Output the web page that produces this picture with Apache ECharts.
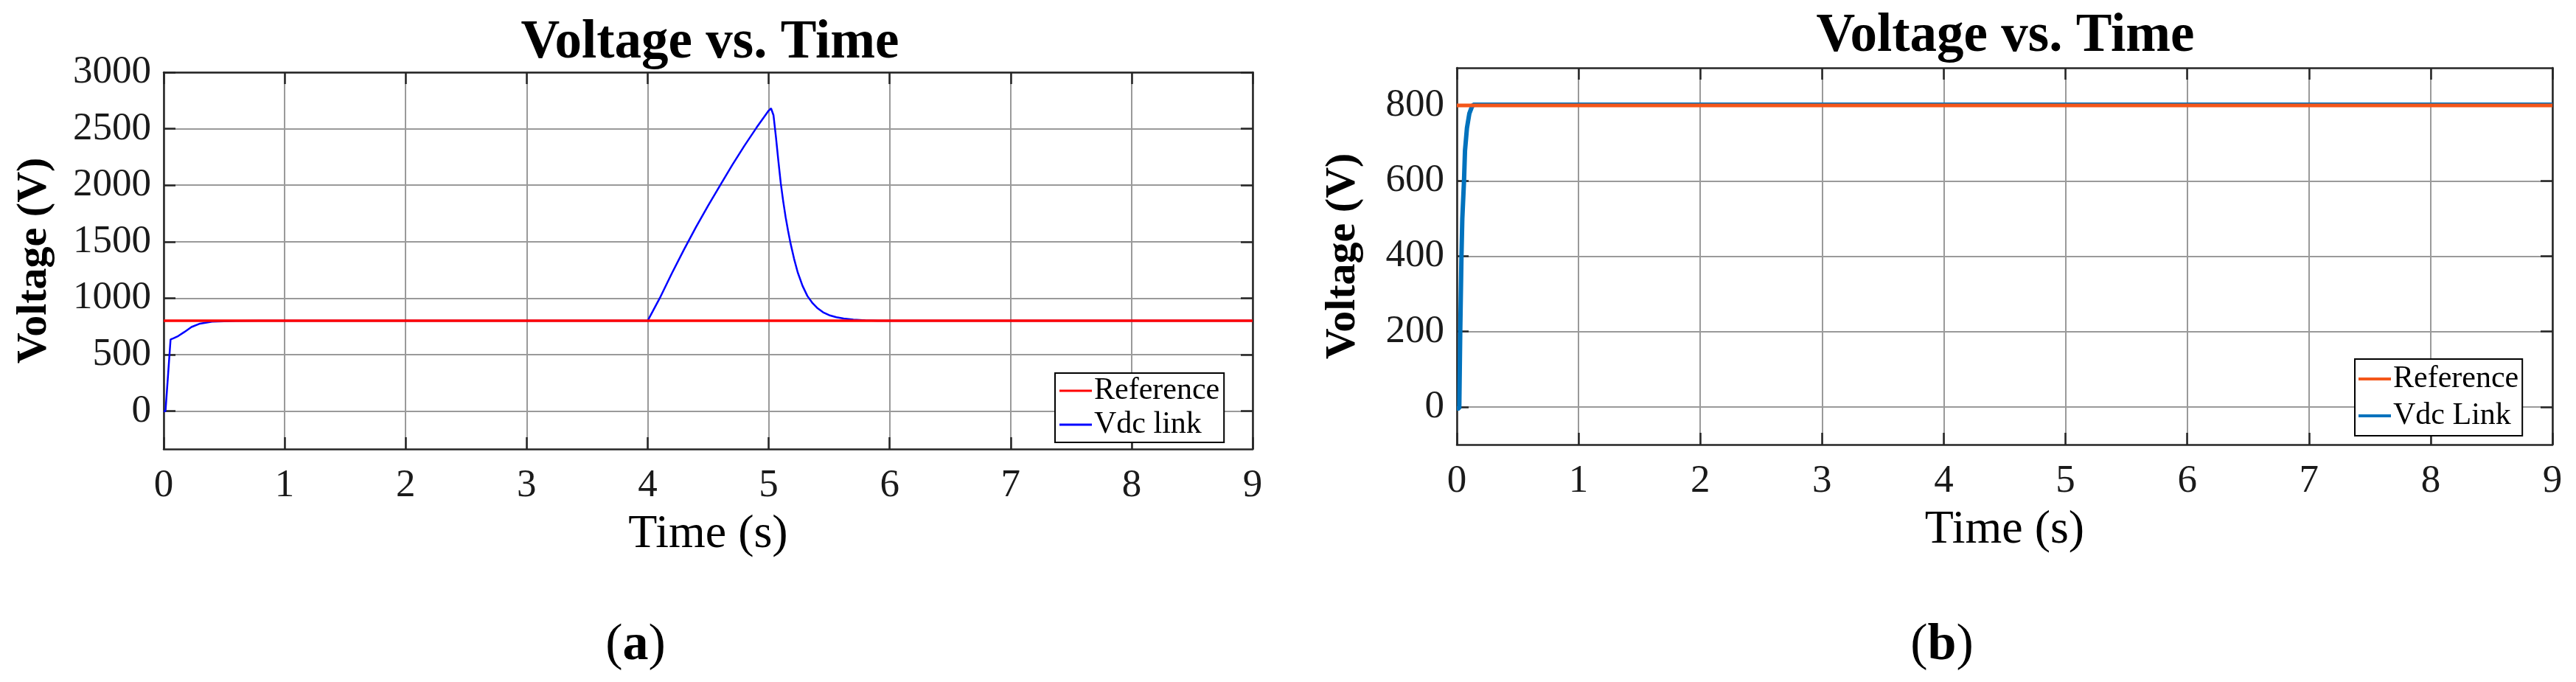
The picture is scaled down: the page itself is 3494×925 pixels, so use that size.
<!DOCTYPE html>
<html>
<head>
<meta charset="utf-8">
<title>Voltage vs. Time</title>
<script src="https://cdn.jsdelivr.net/npm/echarts@6/dist/echarts.min.js"></script>
<style>
    html, body { margin: 0; padding: 0; background: #fff; }
    #main { width: 3494px; height: 925px; }
</style>
</head>
<body>
<div id="main"></div>
<script>
// (a) 左图：读图得到的采样点
const timeA = [0, 0.015, 0.057, 0.08, 0.12, 0.17, 0.23, 0.3, 0.4, 0.6, 0.8,
    4.0, 4.1, 4.2, 4.3, 4.4, 4.5, 4.6, 4.7, 4.8, 4.9, 5.0,
    5.02, 5.04, 5.06, 5.08, 5.10, 5.12, 5.14, 5.16, 5.18,
    5.21, 5.24, 5.28, 5.32, 5.36, 5.40, 5.45, 5.50, 5.56, 5.62, 5.70, 5.80, 5.90, 6.0, 9.0];
const vdcA = [0, 0, 635, 645, 665, 700, 745, 775, 792, 799, 800,
    800, 1000, 1220, 1430, 1630, 1820, 2000, 2180, 2350, 2510, 2660,
    2680, 2620, 2430, 2220, 2020, 1860, 1720, 1600, 1490,
    1350, 1230, 1110, 1020, 960, 915, 875, 850, 832, 820, 810, 804, 801, 800, 800];
const refTimeA = [0, 9];
const refA = [800, 800];

// (b) 右图
const timeB = [0, 0.02, 0.028, 0.038, 0.045, 0.059, 0.067, 0.083, 0.103, 0.123, 0.135, 9];
const vdcB = [-4, -4, 200, 400, 500, 600, 680, 740, 779, 796, 802, 802];
const refTimeB = [0, 9];
const refB = [800, 800];

// 刻度
const yTicksA = [0, 500, 1000, 1500, 2000, 2500, 3000];
const yTicksB = [0, 200, 400, 600, 800];

const FONT = "'Liberation Serif', 'Times New Roman', serif";
const frameColor = '#262626';
const gridColor = '#9a9a9a';

const pairs = (xs, ys) => xs.map((x, i) => [x, ys[i]]);

// x轴 (上下两条组成边框)
function xAxisFor(grid, position) {
    const main = position === 'bottom';
    return {
        type: 'value', gridIndex: grid, position: position,
        min: 0, max: 9, interval: 1,
        axisLine: {show: true, onZero: false, lineStyle: {color: frameColor, width: 2.5}},
        axisTick: {show: true, inside: true, length: 16, lineStyle: {color: frameColor, width: 2.5}},
        axisLabel: {show: main, margin: 24, fontSize: 53, color: '#1a1a1a', fontFamily: FONT,
            showMinLabel: true, showMaxLabel: true, formatter: v => String(v)},
        splitLine: {show: main, lineStyle: {color: gridColor, width: 2}},
        name: main ? 'Time (s)' : '',
        nameLocation: 'middle', nameGap: 84,
        nameTextStyle: {fontSize: 64, color: '#000', fontFamily: FONT}
    };
}

// y轴 (左右两条)
function yAxisFor(grid, position, min, max, ticks, nameGap) {
    const main = position === 'left';
    return {
        type: 'value', gridIndex: grid, position: position,
        min: min, max: max,
        axisLine: {show: true, onZero: false, lineStyle: {color: frameColor, width: 2.5}},
        axisTick: {show: true, inside: true, length: 16, customValues: ticks,
            lineStyle: {color: frameColor, width: 2.5}},
        axisLabel: {show: main, margin: 17, fontSize: 53, color: '#1a1a1a', fontFamily: FONT,
            customValues: ticks, formatter: v => String(v)},
        splitLine: {show: main, lineStyle: {color: gridColor, width: 2}},
        name: main ? 'Voltage (V)' : '',
        nameLocation: 'middle', nameGap: nameGap,
        nameTextStyle: {fontSize: 58, fontWeight: 'bold', color: '#000', fontFamily: FONT}
    };
}

function legendFor(left, top, items, lineHeight, padding, iconH) {
    return {
        left: left, top: top, orient: 'vertical',
        selectedMode: false,
        icon: 'rect',
        itemWidth: 44, itemHeight: iconH, itemGap: 2,
        padding: padding,
        backgroundColor: '#fff', borderColor: '#000', borderWidth: 2,
        textStyle: {fontSize: 42, color: '#000', fontFamily: FONT, lineHeight: lineHeight, padding: [0, 0, 0, -2]},
        data: items
    };
}

function label(x, y, text, size, bold) {
    return {
        type: 'text', x: x, y: y, z: 100,
        style: {
            text: text, fill: '#000',
            font: (bold ? 'bold ' : '') + size + 'px ' + FONT,
            textAlign: 'center', textVerticalAlign: 'middle',
            align: 'center', verticalAlign: 'middle'
        }
    };
}

function panelTag(x, y, letter) {
    return {
        type: 'text', x: x, y: y, z: 100,
        style: {
            text: '{p|(}{b|' + letter + '}{p|)}',
            textAlign: 'center', textVerticalAlign: 'middle',
            align: 'center', verticalAlign: 'middle',
            rich: {
                p: {fontSize: 70, fontFamily: FONT, fill: '#000', color: '#000'},
                b: {fontSize: 70, fontFamily: FONT, fontWeight: 'bold', fill: '#000', color: '#000'}
            }
        }
    };
}

let myChart = echarts.init(document.getElementById('main'));
let option = {
    animation: false,
    backgroundColor: '#fff',
    textStyle: {fontFamily: FONT},
    grid: [
        {left: 222, top: 98, width: 1477, height: 511, outerBoundsMode: 'none', containLabel: false},
        {left: 1976, top: 92, width: 1486, height: 511, outerBoundsMode: 'none', containLabel: false}
    ],
    xAxis: [
        xAxisFor(0, 'bottom'), xAxisFor(0, 'top'),
        xAxisFor(1, 'bottom'), xAxisFor(1, 'top')
    ],
    yAxis: [
        yAxisFor(0, 'left', -335, 3000, yTicksA, 146), yAxisFor(0, 'right', -335, 3000, yTicksA, 0),
        yAxisFor(1, 'left', -100, 900, yTicksB, 125), yAxisFor(1, 'right', -100, 900, yTicksB, 0)
    ],
    legend: [
        legendFor(1431, 506, [
            {name: 'Reference', itemStyle: {color: '#FF0000'}},
            {name: 'Vdc link', itemStyle: {color: '#0000FF'}}
        ], 44, [2, 6, 2, 6], 3),
        legendFor(3194, 487, [
            {name: 'Reference', itemStyle: {color: '#F4561A'}},
            {name: 'Vdc Link', itemStyle: {color: '#0072BD'}}
        ], 48, [3, 5, 3, 5], 4)
    ],
    graphic: [
        label(963, 59, 'Voltage vs. Time', 73, true),
        label(2720, 50, 'Voltage vs. Time', 73, true),
        panelTag(862, 876, 'a'),
        panelTag(2634, 876, 'b')
    ],
    series: [
        {
            name: 'Vdc link', type: 'line', xAxisIndex: 0, yAxisIndex: 0,
            data: pairs(timeA, vdcA), symbol: 'none', z: 2,
            lineStyle: {color: '#0000FF', width: 2.5}, itemStyle: {color: '#0000FF'}
        },
        {
            name: 'Reference', type: 'line', xAxisIndex: 0, yAxisIndex: 0,
            data: pairs(refTimeA, refA), symbol: 'none', z: 3,
            lineStyle: {color: '#FF0000', width: 3.5}, itemStyle: {color: '#FF0000'}
        },
        {
            name: 'Vdc Link', type: 'line', xAxisIndex: 2, yAxisIndex: 2,
            data: pairs(timeB, vdcB), symbol: 'none', z: 2,
            lineStyle: {color: '#0072BD', width: 6}, itemStyle: {color: '#0072BD'}
        },
        {
            name: 'Reference', type: 'line', xAxisIndex: 2, yAxisIndex: 2,
            data: pairs(refTimeB, refB), symbol: 'none', z: 3,
            lineStyle: {color: '#F4561A', width: 5}, itemStyle: {color: '#F4561A'}
        }
    ]
};
myChart.setOption(option);
</script>
</body>
</html>
